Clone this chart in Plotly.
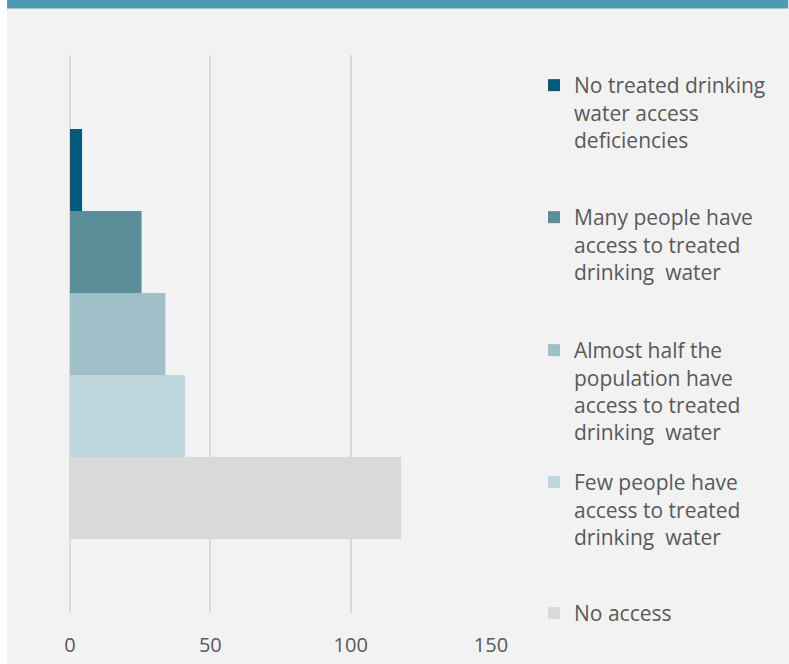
import plotly.graph_objects as go

category = ["Drinking water"]
series_names = [
    "No access",
    "Few people have<br>access to treated<br>drinking  water",
    "Almost half the<br>population have<br>access to treated<br>drinking  water",
    "Many people have<br>access to treated<br>drinking  water",
    "No treated drinking<br>water access<br>deficiencies",
]
series_values = [118, 41, 34, 25.5, 4.3]
series_colors = ["#d9d9d9", "#c0d6dd", "#9fc0c8", "#5a8f99", "#045a7b"]
x_ticks = [0, 50, 100, 150]

W, H = 789, 664
L, R, T, B = 70, 297.5, 55, 51
pw, ph = W - L - R, H - T - B

# first-line centre (px from top) of each legend entry, same order as series
legend_line_px = [613, 482, 350, 217, 85]

def px_x(p):
    return (p - L) / pw

def px_y(p):
    return 1 - (p - T) / ph

fig = go.Figure()
legend_layouts = {}
for i, (name, val, col) in enumerate(zip(series_names, series_values, series_colors)):
    lname = "legend" if i == 0 else f"legend{i + 1}"
    fig.add_trace(go.Bar(
        y=category, x=[val], name=name, orientation="h",
        marker=dict(color=col, line=dict(width=0)),
        legend=lname, hoverinfo="x+name",
    ))
    legend_layouts[lname] = dict(
        xref="container", yref="container",
        x=534 / W, xanchor="left",
        y=1 - (legend_line_px[i] - 20) / H, yanchor="top",
        valign="top", font=dict(size=21, color="#595959", family="Open Sans"),
        bgcolor="rgba(0,0,0,0)", borderwidth=0, itemclick=False, itemdoubleclick=False,
    )

fig.update_layout(
    width=W, height=H,
    margin=dict(l=L, r=R, t=T, b=B, pad=0, autoexpand=False),
    paper_bgcolor="#f2f2f2", plot_bgcolor="#f2f2f2",
    barmode="group", bargap=0.265, bargroupgap=0,
    font=dict(family="Open Sans", color="#595959", size=20),
    xaxis=dict(range=[0, 150], tickvals=x_ticks, showgrid=True,
               gridcolor="#d9d9d9", gridwidth=1.5, zeroline=True,
               zerolinecolor="#d9d9d9", zerolinewidth=1.5, showline=False,
               ticks="", tickfont=dict(size=20, color="#595959"),
               ticklabelstandoff=18, automargin=False, fixedrange=True),
    yaxis=dict(showticklabels=False, showgrid=False, zeroline=False, ticks="",
               automargin=False, fixedrange=True),
    showlegend=True,
    shapes=[
        dict(type="rect", xref="paper", yref="paper", x0=px_x(0), x1=px_x(7),
             y0=px_y(H), y1=px_y(0), fillcolor="#ffffff", line=dict(width=0), layer="above"),
        dict(type="rect", xref="paper", yref="paper", x0=px_x(7), x1=px_x(W),
             y0=px_y(8.5), y1=px_y(0), fillcolor="#4d9bb3", line=dict(width=0), layer="above"),
    ],
    **legend_layouts,
)

fig.write_html("out.html")
